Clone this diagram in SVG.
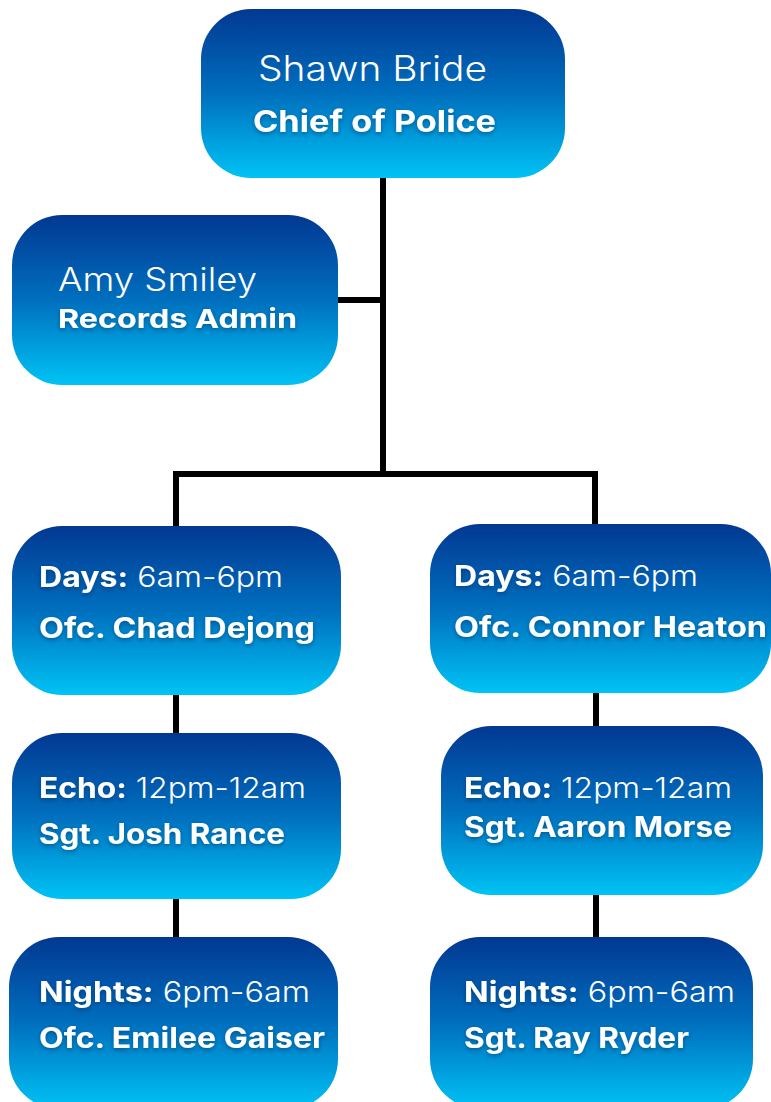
<svg xmlns="http://www.w3.org/2000/svg" width="771" height="1102" viewBox="0 0 771 1102">
<defs>
<linearGradient id="g" x1="0" y1="0" x2="0" y2="1">
<stop offset="0" stop-color="#023892"/>
<stop offset="0.5" stop-color="#006fbe"/>
<stop offset="1" stop-color="#00c3f4"/>
</linearGradient>
<filter id="sh" x="-10%" y="-30%" width="120%" height="170%">
<feDropShadow dx="0" dy="2" stdDeviation="2" flood-color="#00204a" flood-opacity="0.45"/>
</filter>
</defs>
<style>
.box{fill:url(#g)}
text{font-family:Inter,"Open Sans","Liberation Sans",sans-serif;fill:#ffffff}
.r{font-weight:300}
.b{font-weight:700;filter:url(#sh)}
.t1{font-size:28px}
.conn{fill:none;stroke:#000;stroke-width:6;stroke-linejoin:miter}
</style>
<g id="connectors">
<path class="conn" d="M383 178 V474"/>
<path class="conn" d="M338 300 H383"/>
<path class="conn" d="M176 528 V474 H595 V526"/>
<path class="conn" d="M176 695 V733"/>
<path class="conn" d="M176 899 V937"/>
<path class="conn" d="M596 693 V726"/>
<path class="conn" d="M596 895 V937"/>
</g>
<g id="chief">
<rect class="box" x="201" y="9" width="364" height="169" rx="50"/>
<text class="r" x="258" y="81" font-size="35" textLength="229" lengthAdjust="spacingAndGlyphs">Shawn Bride</text>
<text class="b" x="253" y="132" font-size="30" textLength="243" lengthAdjust="spacingAndGlyphs">Chief of Police</text>
</g>
<g id="amy">
<rect class="box" x="12" y="215" width="326" height="170" rx="50"/>
<text class="r" x="58" y="291" font-size="33" textLength="199" lengthAdjust="spacingAndGlyphs">Amy Smiley</text>
<text class="b" x="58" y="328" font-size="26" textLength="239" lengthAdjust="spacingAndGlyphs">Records Admin</text>
</g>
<g id="days-left">
<rect class="box" x="12" y="526" width="329" height="169" rx="50"/>
<text class="t1" x="39" y="587" textLength="244" lengthAdjust="spacingAndGlyphs"><tspan class="b">Days:</tspan><tspan class="r"> 6am-6pm</tspan></text>
<text class="b t1" x="39" y="638" textLength="276" lengthAdjust="spacingAndGlyphs">Ofc. Chad Dejong</text>
</g>
<g id="days-right">
<rect class="box" x="430" y="524" width="341" height="169" rx="50"/>
<text class="t1" x="454" y="586" textLength="244" lengthAdjust="spacingAndGlyphs"><tspan class="b">Days:</tspan><tspan class="r"> 6am-6pm</tspan></text>
<text class="b t1" x="454" y="637" textLength="313" lengthAdjust="spacingAndGlyphs">Ofc. Connor Heaton</text>
</g>
<g id="echo-left">
<rect class="box" x="12" y="733" width="329" height="166" rx="50"/>
<text class="t1" x="39" y="798" textLength="267" lengthAdjust="spacingAndGlyphs"><tspan class="b">Echo:</tspan><tspan class="r"> 12pm-12am</tspan></text>
<text class="b t1" x="39" y="844" textLength="246" lengthAdjust="spacingAndGlyphs">Sgt. Josh Rance</text>
</g>
<g id="echo-right">
<rect class="box" x="441" y="726" width="322" height="169" rx="50"/>
<text class="t1" x="464" y="798" textLength="268" lengthAdjust="spacingAndGlyphs"><tspan class="b">Echo:</tspan><tspan class="r"> 12pm-12am</tspan></text>
<text class="b t1" x="464" y="837" textLength="268" lengthAdjust="spacingAndGlyphs">Sgt. Aaron Morse</text>
</g>
<g id="nights-left">
<rect class="box" x="9" y="937" width="329" height="172" rx="50"/>
<text class="t1" x="39" y="1002" textLength="271" lengthAdjust="spacingAndGlyphs"><tspan class="b">Nights:</tspan><tspan class="r"> 6pm-6am</tspan></text>
<text class="b t1" x="39" y="1048" textLength="286" lengthAdjust="spacingAndGlyphs">Ofc. Emilee Gaiser</text>
</g>
<g id="nights-right">
<rect class="box" x="430" y="937" width="323" height="172" rx="50"/>
<text class="t1" x="464" y="1002" textLength="271" lengthAdjust="spacingAndGlyphs"><tspan class="b">Nights:</tspan><tspan class="r"> 6pm-6am</tspan></text>
<text class="b t1" x="464" y="1048" textLength="225" lengthAdjust="spacingAndGlyphs">Sgt. Ray Ryder</text>
</g>
</svg>
